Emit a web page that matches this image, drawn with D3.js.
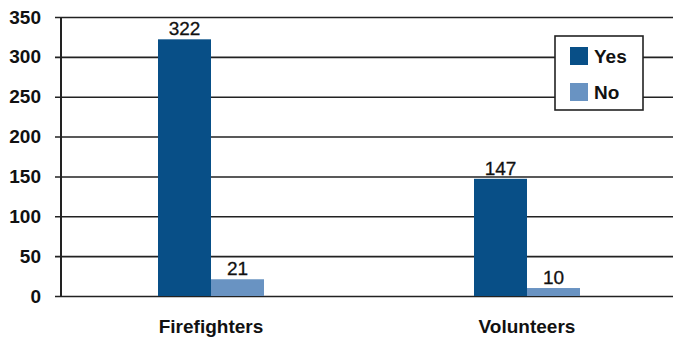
<!DOCTYPE html>
<html>
<head>
<meta charset="utf-8">
<script src="https://cdn.jsdelivr.net/npm/d3@7"></script>
<style>
  html, body { margin: 0; padding: 0; background: #fff; }
  svg { display: block; }
</style>
</head>
<body>
<svg id="chart" width="673" height="339"></svg>
<script>
const categories = ["Firefighters", "Volunteers"];
const seriesNames = ["Yes", "No"];
const yesValues = [322, 147];
const noValues = [21, 10];
const yTicks = [0, 50, 100, 150, 200, 250, 300, 350];
const colors = { Yes: "#084f87", No: "#6993c2" };

const svg = d3.select("#chart");
const font = "'Liberation Sans Narrow', 'Liberation Sans', Arial, sans-serif";

const plot = { left: 61, right: 673, top: 17, bottom: 296 };

const y = d3.scaleLinear().domain([0, 350]).range([plot.bottom, plot.top]);
const x0 = d3.scaleBand().domain(categories).range([53, 685]).paddingInner(0).paddingOuter(0);
const x1 = d3.scaleBand().domain(seriesNames).range([-53, 53]);

const rows = categories.map((c, i) => ({
  category: c,
  values: [{ key: "Yes", value: yesValues[i] }, { key: "No", value: noValues[i] }]
}));

// horizontal gridlines with small ticks left of the axis
const yAxis = d3.axisLeft(y).tickValues(yTicks).tickSize(-(plot.right - plot.left)).tickPadding(20);
const gy = svg.append("g").attr("transform", `translate(${plot.left},0)`).call(yAxis);
gy.select(".domain").remove();
gy.selectAll(".tick line").attr("stroke", "#222").attr("stroke-width", 1.6).attr("x1", -6);
gy.selectAll(".tick text")
  .attr("font-family", font).attr("font-weight", "bold").attr("font-size", 19)
  .attr("fill", "#111");

// vertical axis line
svg.append("line")
  .attr("x1", plot.left).attr("x2", plot.left)
  .attr("y1", plot.top).attr("y2", plot.bottom)
  .attr("stroke", "#222").attr("stroke-width", 2);

// bars
const groups = svg.append("g").selectAll("g").data(rows).join("g")
  .attr("transform", d => `translate(${x0(d.category) + x0.bandwidth() / 2},0)`);

groups.selectAll("rect").data(d => d.values).join("rect")
  .attr("x", d => x1(d.key))
  .attr("width", x1.bandwidth())
  .attr("y", d => y(d.value))
  .attr("height", d => y(0) - y(d.value))
  .attr("fill", d => colors[d.key]);

groups.selectAll("text.val").data(d => d.values).join("text")
  .attr("class", "val")
  .attr("x", d => x1(d.key) + x1.bandwidth() / 2)
  .attr("y", d => y(d.value) - 4)
  .attr("text-anchor", "middle")
  .attr("font-family", font).attr("font-size", 19)
  .attr("stroke", "#111").attr("stroke-width", 0.3)
  .attr("fill", "#111")
  .text(d => d.value);

// category labels
svg.append("g").selectAll("text").data(categories).join("text")
  .attr("x", d => x0(d) + x0.bandwidth() / 2)
  .attr("y", 333)
  .attr("text-anchor", "middle")
  .attr("font-family", font).attr("font-weight", "bold").attr("font-size", 19)
  .attr("fill", "#111")
  .text(d => d);

// legend
const legend = svg.append("g").attr("transform", "translate(555,36)");
legend.append("rect")
  .attr("width", 88).attr("height", 74)
  .attr("fill", "#fff").attr("stroke", "#222").attr("stroke-width", 1.6);
seriesNames.forEach((s, i) => {
  legend.append("rect")
    .attr("x", 15).attr("y", 11 + i * 36)
    .attr("width", 18).attr("height", 18)
    .attr("fill", colors[s]);
  legend.append("text")
    .attr("x", 39).attr("y", 27 + i * 36)
    .attr("font-family", font).attr("font-weight", "bold").attr("font-size", 19)
    .attr("fill", "#111")
    .text(s);
});
</script>
</body>
</html>
